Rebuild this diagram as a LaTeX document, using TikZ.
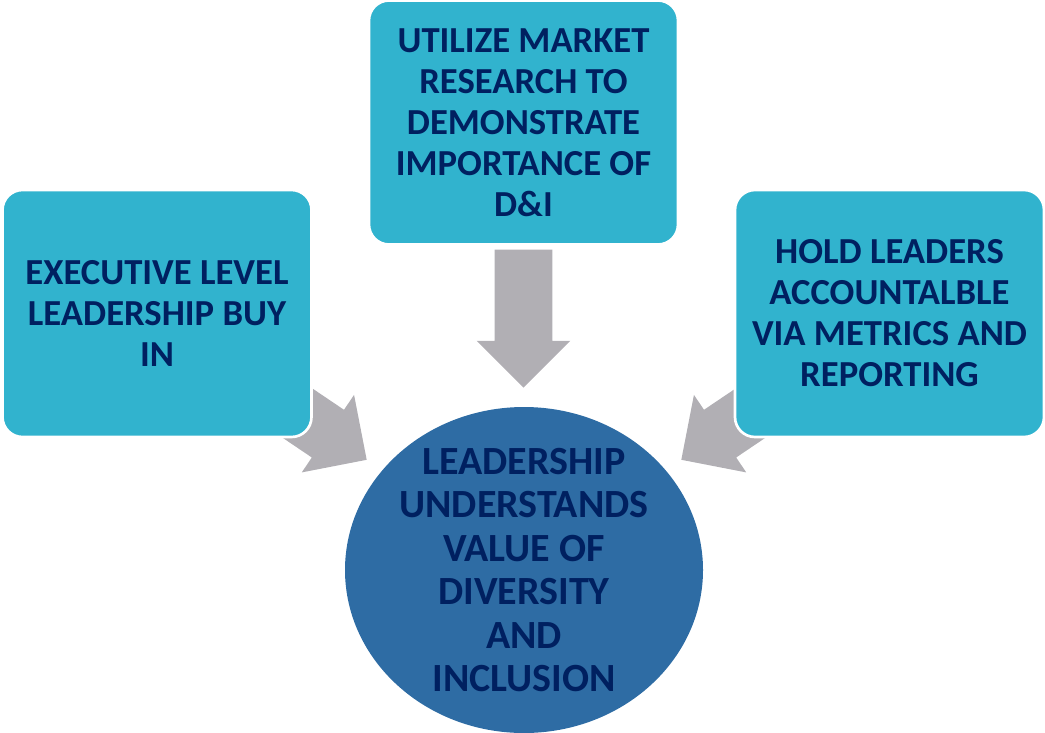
\documentclass[tikz,border=0pt]{standalone}
\usepackage{fontspec}
\setmainfont{Carlito}
\usetikzlibrary{shapes.geometric,shapes.arrows}
\definecolor{boxblue}{HTML}{31B3CE}
\definecolor{goalblue}{HTML}{2E6CA4}
\definecolor{navytext}{HTML}{002060}
\definecolor{arrowgrey}{HTML}{B1AFB4}
\tikzset{
    every node/.append style={text=navytext},
    stepbox/.style={rectangle, rounded corners=15pt, fill=boxblue, draw=white,
        line width=2pt, minimum width=231.75pt, minimum height=185.25pt, align=center,
        font=\fontsize{27.5}{30.75}\selectfont\bfseries},
    goal/.style={ellipse, fill=goalblue, minimum width=268.5pt, minimum height=244.5pt,
        inner sep=0pt},
    goaltext/.style={align=center, text=navytext,
        font=\fontsize{30}{32.6}\selectfont\bfseries},
    blockarrow/.style={single arrow, fill=arrowgrey, inner xsep=0pt, inner ysep=21.375pt,
        minimum height=103.5pt, minimum width=69.75pt, anchor=tip,
        single arrow head extend=13.5pt, single arrow tip angle=90}
}

\begin{document}
\begin{tikzpicture}[x=0.75pt, y=-0.75pt]
    \useasboundingbox (0,0) rectangle (1045,732);

    % grey block arrows, drawn first so the boxes cover their tails
    \node[blockarrow, rotate=-34]  (arrleft)  at (367,460) {};
    \node[blockarrow, rotate=-90]  (arrtop)   at (523.5,388) {};
    \node[blockarrow, rotate=-146] (arrright) at (681,460) {};

    % the three steps
    \node[stepbox] (exec) at (157,313.5)
        {EXECUTIVE LEVEL\\LEADERSHIP BUY\\IN};
    \node[stepbox, minimum height=183pt] (research) at (523.5,122.5)
        {UTILIZE MARKET\\RESEARCH TO\\DEMONSTRATE\\IMPORTANCE OF\\D\&I};
    \node[stepbox] (hold) at (889.5,313.5)
        {HOLD LEADERS\\ACCOUNTALBLE\\VIA METRICS AND\\REPORTING};

    % the goal
    \node[goal, label={[goaltext]center:{LEADERSHIP\\UNDERSTANDS\\VALUE OF\\DIVERSITY\\AND\\INCLUSION}}]
        (goal) at (524,570) {};
\end{tikzpicture}
\end{document}
